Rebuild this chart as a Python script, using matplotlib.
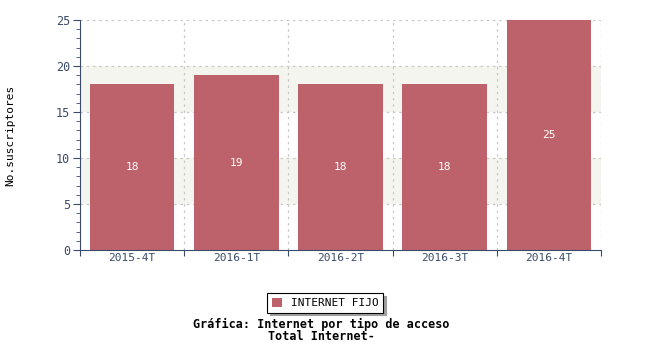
import numpy as np
import matplotlib.pyplot as plt
from matplotlib.ticker import MultipleLocator

# Datos
periodos = ["2015-4T", "2016-1T", "2016-2T", "2016-3T", "2016-4T"]
suscriptores = [18, 19, 18, 18, 25]
serie = "INTERNET FIJO"

color_barra = "#BD626B"
color_eje = "#3A4A6B"
mono = "DejaVu Sans Mono"

fig = plt.figure(figsize=(6.5, 3.5), dpi=100)
ax = fig.add_axes([80 / 650, 1 - 250 / 350, 521 / 650, 230 / 350])

x = np.arange(len(periodos))
ax.set_xlim(-0.5, len(periodos) - 0.5)
ax.set_ylim(0, 25)

# Bandas alternas
for y0 in (5, 15):
    ax.axhspan(y0, y0 + 5, color="#F5F5F0", zorder=0, lw=0)

# Rejilla punteada
for yv in range(5, 26, 5):
    ax.axhline(yv, color="#C8C8C8", ls=(0, (2, 3)), lw=0.9, zorder=1)
for xv in np.arange(0.5, len(periodos), 1):
    ax.axvline(xv, color="#C8C8C8", ls=(0, (2, 3)), lw=0.9, zorder=1)

barras = ax.bar(x, suscriptores, width=0.81, color=color_barra, zorder=2, label=serie)
for b, v in zip(barras, suscriptores):
    ax.text(b.get_x() + b.get_width() / 2, v / 2, str(v), ha="center", va="center",
            color="white", fontsize=8, family=mono, zorder=3)

for s in ("top", "right"):
    ax.spines[s].set_visible(False)
for s in ("left", "bottom"):
    ax.spines[s].set_color(color_eje)

ax.yaxis.set_major_locator(MultipleLocator(5))
ax.yaxis.set_minor_locator(MultipleLocator(1))
ax.tick_params(axis="y", which="major", length=5, color=color_eje, labelcolor=color_eje,
               labelsize=8.5, direction="out", pad=2)
ax.tick_params(axis="y", which="minor", length=3, color=color_eje, direction="out")
for lbl in ax.get_yticklabels():
    lbl.set_family(mono)

ax.set_xticks(np.arange(-0.5, len(periodos), 1))
ax.set_xticklabels([])
ax.set_xticks(x, minor=True)
ax.set_xticklabels(periodos, minor=True, family=mono, fontsize=8, color=color_eje)
ax.tick_params(axis="x", which="major", length=4, color=color_eje, direction="out")
ax.tick_params(axis="x", which="minor", length=0, pad=2)

fig.text(10 / 650, 1 - 135 / 350, "No.suscriptores", rotation=90, ha="center", va="center",
         family=mono, fontsize=8)

leg = fig.legend(handles=[barras], labels=[serie], loc="center", bbox_to_anchor=(325 / 650, 1 - 303 / 350),
                 prop={"family": mono, "size": 8}, fancybox=False, edgecolor="black",
                 handlelength=0.9, handleheight=0.9, borderpad=0.4, framealpha=1,
                 shadow={"color": "#A0A0A0", "alpha": 1, "ox": 2, "oy": -2})
leg.get_frame().set_linewidth(0.8)

fig.text(321 / 650, 1 - 324 / 350, "Gráfica: Internet por tipo de acceso", ha="center", va="center",
         family=mono, fontsize=8.5, fontweight="bold")
fig.text(321 / 650, 1 - 337 / 350, "Total Internet-", ha="center", va="center",
         family=mono, fontsize=8.5, fontweight="bold")

fig.savefig("out.png", dpi=100)
